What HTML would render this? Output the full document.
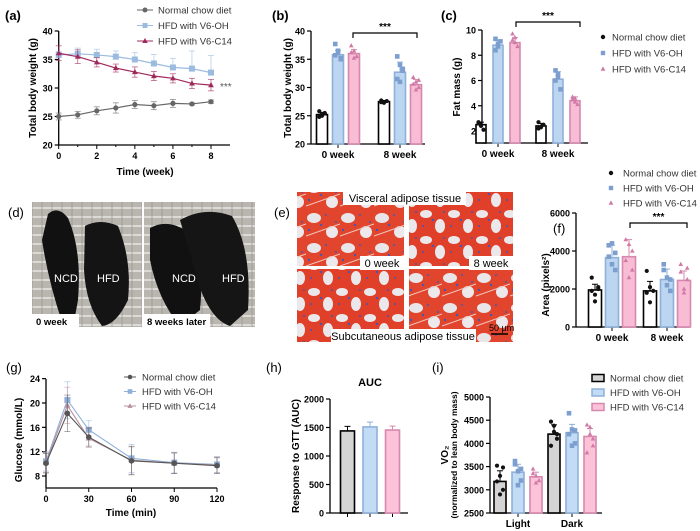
<!DOCTYPE html>
<html><head><meta charset="utf-8"><style>
html,body{margin:0;padding:0;background:#fff}
svg{display:block;font-family:"Liberation Sans",sans-serif}
</style></head><body>
<svg id="fig" width="700" height="531" viewBox="0 0 700 531" xmlns="http://www.w3.org/2000/svg">
<defs>
<pattern id="cage" width="10" height="9" patternUnits="userSpaceOnUse"><rect width="10" height="9" fill="#b9b6b0"/><line x1="0" y1="1" x2="10" y2="1" stroke="#e8e6e2" stroke-width="1.5"/><line x1="2" y1="0" x2="2" y2="9" stroke="#8d8a85" stroke-width="0.6"/></pattern>
<pattern id="tis" width="34" height="30" patternUnits="userSpaceOnUse"><rect width="34" height="30" fill="#e2452d"/><ellipse cx="8" cy="8" rx="7" ry="5" fill="#e9e6ea"/><ellipse cx="26" cy="22" rx="6" ry="6" fill="#ece8ec"/><circle cx="15" cy="15" r="1.2" fill="#4a55b0"/><circle cx="3" cy="20" r="1.2" fill="#4a55b0"/><circle cx="20" cy="5" r="1" fill="#4a55b0"/><circle cx="30" cy="12" r="1" fill="#4a55b0"/><line x1="0" y1="26" x2="34" y2="14" stroke="#f0c8c0" stroke-width="1"/></pattern>
<pattern id="tis2" width="28" height="26" patternUnits="userSpaceOnUse"><rect width="28" height="26" fill="#e0402a"/><ellipse cx="6" cy="6" rx="6" ry="4" fill="#ebe8ec"/><ellipse cx="20" cy="18" rx="5" ry="7" fill="#ebe8ec"/><circle cx="13" cy="12" r="1.2" fill="#4a55b0"/><circle cx="3" cy="18" r="1" fill="#4a55b0"/><circle cx="24" cy="4" r="1" fill="#4a55b0"/></pattern>
</defs>
<g>
<text x="8" y="217" font-size="13">(d)</text>
<rect x="32" y="202" width="110" height="125" fill="url(#cage)"/>
<path d="M48,214 Q58,205 68,218 Q82,250 78,300 L74,322 L62,322 Q48,280 42,240 Z" fill="#111"/>
<path d="M85,226 Q100,218 118,226 Q132,260 128,300 Q116,325 102,326 Q86,305 84,270 Z" fill="#141414"/>
<text x="54" y="282" font-size="11" fill="#fff">NCD</text>
<text x="97" y="282" font-size="11" fill="#fff">HFD</text>
<rect x="32" y="314" width="47" height="14" fill="#fff"/>
<text x="36" y="325" font-size="9.5" font-weight="bold">0 week</text>
<rect x="144" y="202" width="111" height="125" fill="url(#cage)"/>
<path d="M150,228 Q168,218 188,232 Q205,265 200,310 L180,326 Q158,300 150,260 Z" fill="#111"/>
<path d="M180,220 Q205,206 232,216 Q252,250 248,310 L230,326 Q205,318 192,260 Z" fill="#151515"/>
<text x="172" y="282" font-size="11" fill="#fff">NCD</text>
<text x="222" y="282" font-size="11" fill="#fff">HFD</text>
<rect x="144" y="314" width="66" height="14" fill="#fff"/>
<text x="147" y="325" font-size="9.5" font-weight="bold">8 weeks later</text>
</g>
<g>
<text x="274" y="217" font-size="13">(e)</text>
<rect x="297" y="192" width="107" height="74" fill="url(#tis)"/>
<rect x="409" y="192" width="104" height="74" fill="url(#tis2)"/>
<rect x="297" y="269" width="107" height="73" fill="url(#tis2)"/>
<rect x="409" y="269" width="104" height="73" fill="url(#tis)"/>
<rect x="343" y="190" width="123" height="15" fill="#fff"/>
<text x="405" y="202" font-size="11" text-anchor="middle">Visceral adipose tissue</text>
<rect x="360" y="256" width="44" height="14" fill="#fff"/>
<text x="382" y="267" font-size="11" text-anchor="middle">0 week</text>
<rect x="469" y="256" width="44" height="14" fill="#fff"/>
<text x="491" y="267" font-size="11" text-anchor="middle">8 week</text>
<rect x="331" y="329" width="145" height="14" fill="#fff"/>
<text x="403" y="340" font-size="11" text-anchor="middle">Subcutaneous adipose tissue</text>
<text x="489" y="331" font-size="9">50 μm</text>
<line x1="491" y1="334" x2="508" y2="334" stroke="#000" stroke-width="1.5"/>
</g>
</svg>
<script>
const NS='http://www.w3.org/2000/svg';
const svg=document.getElementById('fig');
function el(tag,attrs,parent,txt){const e=document.createElementNS(NS,tag);for(const k in attrs)e.setAttribute(k,attrs[k]);if(txt!==undefined)e.textContent=txt;(parent||svg).appendChild(e);return e;}
const COL={ncd:'#666',oh:'#8fb0d8',c14:'#a0285a'};
const FILL=['#fff','#bcd6f2','#f8bcd4'],STROKE=['#000','#8fb0d8','#d688ae'],DOT=['#111','#7d9fcf','#d07aa5'];
function marker(g,type,x,y,c,s){
 if(type==0)return el('circle',{cx:x,cy:y,r:s,fill:c},g);
 if(type==1)return el('rect',{x:x-s,y:y-s,width:2*s,height:2*s,fill:c},g);
 return el('polygon',{points:`${x},${y-s*1.2} ${x-s*1.1},${y+s*0.8} ${x+s*1.1},${y+s*0.8}`,fill:c},g);
}
function yAxis(g,x,sy,ticks,top,bot,fmt){
 el('line',{x1:x,y1:top,x2:x,y2:bot,stroke:'#000','stroke-width':1.3},g);
 ticks.forEach(t=>{const y=sy(t);el('line',{x1:x-4,y1:y,x2:x,y2:y,stroke:'#000','stroke-width':1.2},g);
  el('text',{x:x-6,y:y+3.5,'font-size':9,'font-weight':'bold','text-anchor':'end'},g,fmt?fmt(t):t);});
}
function lin(d0,d1,r0,r1){return v=>r0+(v-d0)*(r1-r0)/(d1-d0);}

const aWeeks=[0,1,2,3,4,5,6,7,8];
const aNCD=[25,25.3,26,26.5,27.1,26.9,27.3,27.2,27.6];
const aNCDsd=[0.6,0.6,0.7,0.9,0.7,0.7,0.7,0.2,0.3];
const aOH=[35.8,36,35.8,35.5,35,34.3,33.6,33.4,32.7];
const aOHsd=[0.6,1,1,1,1.2,1.6,1.6,3.1,3];
const aC14=[36.1,35.5,34.5,33.5,32.8,32.1,31.7,30.8,30.5];
const aC14sd=[1.3,1.2,0.8,0.7,0.9,0.8,0.8,0.9,1];
const aYTicks=[20,25,30,35,40];
(function(){
 const g=el('g',{});
 const sx=lin(0,8,58.7,211),sy=lin(20,40,145,31);
 el('text',{x:5,y:20,'font-size':13,'font-weight':'bold'},g,'(a)');
 yAxis(g,58.7,sy,aYTicks,31,145);
 el('line',{x1:58.7,y1:145,x2:230,y2:145,stroke:'#000','stroke-width':1.3},g);
 [0,2,4,6,8].forEach(t=>{el('line',{x1:sx(t),y1:145,x2:sx(t),y2:149,stroke:'#000'},g);el('text',{x:sx(t),y:159,'font-size':9,'font-weight':'bold','text-anchor':'middle'},g,t);});
 [1,3,5,7].forEach(t=>el('line',{x1:sx(t),y1:145,x2:sx(t),y2:147,stroke:'#000'},g));
 el('text',{x:145,y:175,'font-size':10,'font-weight':'bold','text-anchor':'middle'},g,'Time (week)');
 el('text',{x:0,y:0,'font-size':10,'font-weight':'bold','text-anchor':'middle',transform:'translate(36,88) rotate(-90)'},g,'Total body weight (g)');
 const series=[[aNCD,aNCDsd,COL.ncd,0,true],[aOH,aOHsd,'#9cbbe0',1,false],[aC14,aC14sd,COL.c14,2,true]];
 series.forEach(([v,sd,c,m,both])=>{
  v.forEach((y,i)=>{const x=sx(aWeeks[i]);const lo=both?sy(y-sd[i]):sy(y);el('line',{x1:x,y1:lo,x2:x,y2:sy(y+sd[i]),stroke:c,'stroke-width':0.8,opacity:0.7},g);
   el('line',{x1:x-3,y1:sy(y+sd[i]),x2:x+3,y2:sy(y+sd[i]),stroke:c,'stroke-width':0.8,opacity:0.7},g);if(both)el('line',{x1:x-3,y1:lo,x2:x+3,y2:lo,stroke:c,'stroke-width':0.8,opacity:0.7},g);});
  el('polyline',{points:v.map((y,i)=>sx(aWeeks[i])+','+sy(y)).join(' '),fill:'none',stroke:c,'stroke-width':1.2},g);
  v.forEach((y,i)=>marker(g,m,sx(aWeeks[i]),sy(y),c,m==1?3:2.6));
 });
 el('text',{x:220,y:90,'font-size':10,fill:'#555'},g,'***');
 const lg=[['Normal chow diet',COL.ncd,0],['HFD with V6-OH','#9cbbe0',1],['HFD with V6-C14',COL.c14,2]];
 lg.forEach(([t,c,m],i)=>{const y=10+i*15.5;el('line',{x1:137,y1:y,x2:153,y2:y,stroke:c},g);marker(g,m,145,y,c,2.5);el('text',{x:158,y:y+3.5,'font-size':9.5,fill:'#333'},g,t);});
})();

function barPanel(cfg){
 const g=el('g',{});
 const sy=lin(cfg.d0,cfg.d1,cfg.r0,cfg.r1);
 el('text',{x:cfg.lx,y:cfg.ly,'font-size':13,'font-weight':cfg.lb?'bold':'normal'},g,cfg.label);
 yAxis(g,cfg.ax,sy,cfg.ticks,cfg.top,cfg.bot,cfg.fmt);
 el('line',{x1:cfg.ax,y1:cfg.bot,x2:cfg.axEnd,y2:cfg.bot,stroke:'#000','stroke-width':1.3},g);
 cfg.centers.forEach((c,gi)=>{
  if(cfg.cats[gi]!==''){el('line',{x1:c,y1:cfg.bot,x2:c,y2:cfg.bot+4,stroke:'#000'},g);
   el('text',{x:c,y:cfg.bot+14,'font-size':10,'font-weight':'bold','text-anchor':'middle'},g,cfg.cats[gi]);}
  cfg.means.forEach((ser,si)=>{
   const x=c+(si-1)*cfg.pitch,w=cfg.w,v=ser[gi],y=sy(v),sd=cfg.sds[si][gi];
   if(cfg.ticksPerBar)el('line',{x1:x,y1:cfg.bot,x2:x,y2:cfg.bot+4,stroke:'#000'},g);
   const b=el('rect',{x:x-w/2,y:y,width:w,height:cfg.bot-y,fill:cfg.fills[si],stroke:STROKE[si],'stroke-width':1.6},g);
   
   
   el('line',{x1:x,y1:sy(v-(cfg.upOnly?0:sd)),x2:x,y2:sy(v+sd),stroke:STROKE[si],'stroke-width':1},g);
   el('line',{x1:x-3,y1:sy(v+sd),x2:x+3,y2:sy(v+sd),stroke:STROKE[si],'stroke-width':1},g);
   if(cfg.pts){cfg.pts[si][gi].forEach((p,k)=>{const dx=((k%3)-1)*w*0.25;marker(g,si,x+dx,sy(p),DOT[si],si==1?2.3:2.1);});}
  });
 });
 if(cfg.bracket){const [x1,x2,y]=cfg.bracket;el('path',{d:`M${x1},${y+5}V${y}H${x2}V${y+5}`,fill:'none',stroke:'#000','stroke-width':1.2},g);
  el('text',{x:(x1+x2)/2,y:y-3,'font-size':10,'font-weight':'bold','text-anchor':'middle'},g,'***');}
 const yl=cfg.ylabel;el('text',{x:0,y:0,'font-size':10,'font-weight':'bold','text-anchor':'middle',transform:`translate(${yl[1]},${yl[2]}) rotate(-90)`},g,yl[0]);
 if(yl[3])el('text',{x:0,y:0,'font-size':8.5,'font-weight':'bold','text-anchor':'middle',transform:`translate(${yl[1]+9},${yl[2]}) rotate(-90)`},g,yl[3]);
 return g;
}
const bCats=['0 week','8 week'];
const bNCD=[25.2,27.5],bOH=[35.8,32.7],bC14=[36,30.5];
const bSD=[[0.4,0.2],[0.8,1.8],[0.7,0.9]];
const bPts=[[[25.8,25,25.4,24.8,25.3,25.5],[27.7,27.3,27.6,27.4]],[[37.7,36.5,35.2,35.7,36.2,35],[35.5,34,33,31.5,31,33.3]],[[37.4,36.5,35.5,36.2,35.2],[31.8,31,30,30.6,29.6,31.3]]];
barPanel({name:'panel-b-total-body-weight-chart',short:'b',label:'(b)',lx:272,ly:20,lb:true,d0:20,d1:40,r0:144,r1:31,ax:311,axEnd:425,top:31,bot:144,ticks:[20,25,30,35,40],
 cats:bCats,centers:[338,400],pitch:16,w:11,means:[bNCD,bOH,bC14],sds:bSD,pts:bPts,fills:FILL,upOnly:true,bracket:[353,417,33],ylabel:['Total body weight (g)',291,88]});
const cCats=['0 week','8 week'];
const cNCD=[2.5,2.4],cOH=[8.8,6.1],cC14=[9.0,4.4];
const cSD=[[0.2,0.2],[0.4,0.6],[0.4,0.3]];
const cPts=[[[2.7,2.4,2.1,2.6],[2.7,2.3,2.5,2.2]],[[9.3,8.7,9.1,8.4,8.9],[6.8,6.3,5.3,6.0,6.5]],[[9.7,9.0,8.7,9.2,9.4],[4.7,4.3,4.1,4.5,4.6]]];
barPanel({name:'panel-c-fat-mass-chart',short:'c',label:'(c)',lx:441,ly:20,lb:true,d0:2,d1:10,r0:131,r1:30,ax:482,axEnd:588,top:30,bot:143,ticks:[2,4,6,8,10],
 cats:cCats,centers:[498,558],pitch:17,w:10,means:[cNCD,cOH,cC14],sds:cSD,pts:cPts,fills:FILL,upOnly:true,bracket:[516,580,22],ylabel:['Fat mass (g)',460,87]});
const fCats=['0 week','8 week'];
const fNCD=[1950,1900],fOH=[3650,2500],fC14=[3700,2450];
const fSD=[[300,500],[650,550],[900,500]];
const fPts=[[[2600,1700,2100,1900,1350,2000],[2950,1300,1900,1800,2100]],[[4300,4400,3000,3700,3300,3900],[3300,2200,2500,3000,2600,1900]],[[4600,4350,3000,3500,2600,4000],[3300,2000,2500,2900,1800,3100]]];
barPanel({name:'panel-f-adipocyte-area-chart',short:'f',label:'(f)',lx:553,ly:233,lb:false,d0:0,d1:6000,r0:327,r1:213,ax:576,axEnd:690,top:213,bot:327,ticks:[0,2000,4000,6000],
 cats:fCats,centers:[612,667],pitch:17,w:13,means:[fNCD,fOH,fC14],sds:fSD,pts:fPts,fills:FILL,upOnly:true,bracket:[630,687,223],ylabel:['Area (pixels²)',549,285]});
const hCats=[''];
const hMeans=[[1440],[1510],[1455]];
const hSD=[[80],[85],[70]];
barPanel({name:'panel-h-auc-chart',short:'h',label:'(h)',lx:266,ly:372,lb:false,d0:0,d1:2000,r0:513,r1:399,ax:330,axEnd:408,top:399,bot:513,ticks:[0,500,1000,1500,2000],
 cats:hCats,centers:[370],pitch:22.5,w:14,means:hMeans,sds:hSD,fills:['#d4d4d4','#c2dcf6','#fbc2d8'],upOnly:true,ticksPerBar:true,ylabel:['Response to GTT (AUC)',299,456]});
const iCats=['Light','Dark'];
const iNCD=[3180,4200],iOH=[3380,4230],iC14=[3280,4150];
const iSD=[[230,200],[170,180],[100,170]];
const iPts=[[[3520,3300,3000,3180,2900,3480],[4470,4250,4100,3950,4380,4200]],[[3620,3400,3200,3550,3100,3450],[4650,4300,4000,4200,3950,4280]],[[3450,3300,3200,3350,3150],[4400,4200,3950,3800,4350,4100]]];
barPanel({name:'panel-i-vo2-chart',short:'i',label:'(i)',lx:432,ly:372,lb:false,d0:2500,d1:5000,r0:513,r1:397,ax:490,axEnd:602,top:397,bot:513,ticks:[2500,3000,3500,4000,4500,5000],
 cats:iCats,centers:[518,572],pitch:18,w:12,means:[iNCD,iOH,iC14],sds:iSD,pts:iPts,fills:['#d4d4d4','#c2dcf6','#fbc2d8'],upOnly:true,ylabel:['VO₂',448,455,'(normalized to lean body mass)']});
const aucT=el('text',{x:370,y:386,'font-size':11,'font-weight':'bold','text-anchor':'middle'},svg,'AUC');



(function(){
 const names=['Normal chow diet','HFD with V6-OH','HFD with V6-C14'];
 const g=el('g',{});
 names.forEach((t,i)=>{const y=37+i*16;marker(g,i,603,y,DOT[i],2.2);el('text',{x:612,y:y+3.5,'font-size':9.5,fill:'#333'},g,t);});
 const g2=el('g',{});
 names.forEach((t,i)=>{const y=173+i*15;marker(g2,i,611,y,DOT[i],2.2);el('text',{x:623,y:y+3.5,'font-size':9.5,fill:'#333'},g2,t);});
 const g3=el('g',{});
 const lf=['#d4d4d4','#c2dcf6','#fbc2d8'];
 names.forEach((t,i)=>{const y=378+i*14.5;el('rect',{x:592,y:y-3.5,width:12,height:7,fill:lf[i],stroke:STROKE[i],'stroke-width':1.5},g3);el('text',{x:610,y:y+3.5,'font-size':9.5,fill:'#333'},g3,t);});
})();

const gTimes=[0,15,30,60,90,120];
const gNCD=[10.1,18.3,14.4,10.5,10.1,9.7];
const gOH=[10.4,20.5,15.6,10.9,10.2,9.9];
const gC14=[10.2,19.6,14.2,10.6,10.1,9.8];
const gSD=[1.6,3,1.5,2.3,1.7,1.3];
const gYTicks=[8,12,16,20,24];
const gXTicks=[0,30,60,90,120];
(function(){
 const g=el('g',{});
 const sx=lin(0,120,46,217),sy=lin(8,20,476,403);
 el('text',{x:6,y:372,'font-size':13},g,'(g)');
 yAxis(g,46,sy,gYTicks,379,488);
 el('line',{x1:46,y1:488,x2:217,y2:488,stroke:'#000','stroke-width':1.3},g);
 gXTicks.forEach(t=>{el('line',{x1:sx(t),y1:488,x2:sx(t),y2:492,stroke:'#000'},g);el('text',{x:sx(t),y:502,'font-size':9,'font-weight':'bold','text-anchor':'middle'},g,t);});
 el('text',{x:131,y:516,'font-size':10,'font-weight':'bold','text-anchor':'middle'},g,'Time (min)');
 el('text',{x:0,y:0,'font-size':10,'font-weight':'bold','text-anchor':'middle',transform:'translate(22,440) rotate(-90)'},g,'Glucose (mmol/L)');
 const s=[[gOH,'#8fb0d8',1],[gC14,'#b8909f',2],[gNCD,'#555',0]];
 s.forEach(([v,c,m])=>{
  v.forEach((y,i)=>{const x=sx(gTimes[i]);el('line',{x1:x,y1:sy(y-gSD[i]),x2:x,y2:sy(y+gSD[i]),stroke:c,'stroke-width':0.8,opacity:0.6},g);
   [y-gSD[i],y+gSD[i]].forEach(e=>el('line',{x1:x-3,y1:sy(e),x2:x+3,y2:sy(e),stroke:c,'stroke-width':0.8,opacity:0.6},g));});
  el('polyline',{points:v.map((y,i)=>sx(gTimes[i])+','+sy(y)).join(' '),fill:'none',stroke:c,'stroke-width':1.1},g);
  v.forEach((y,i)=>marker(g,m,sx(gTimes[i]),sy(y),c,m==1?3:2.8));
 });
 const lg=[['Normal chow diet','#555',0],['HFD with V6-OH','#8fb0d8',1],['HFD with V6-C14','#b8909f',2]];
 lg.forEach(([t,c,m],i)=>{const y=377+i*14.5;el('line',{x1:124,y1:y,x2:136,y2:y,stroke:c},g);marker(g,m,130,y,c,2.3);el('text',{x:142,y:y+3.5,'font-size':9.5,fill:'#333'},g,t);});
})();
</script>
</body></html>
